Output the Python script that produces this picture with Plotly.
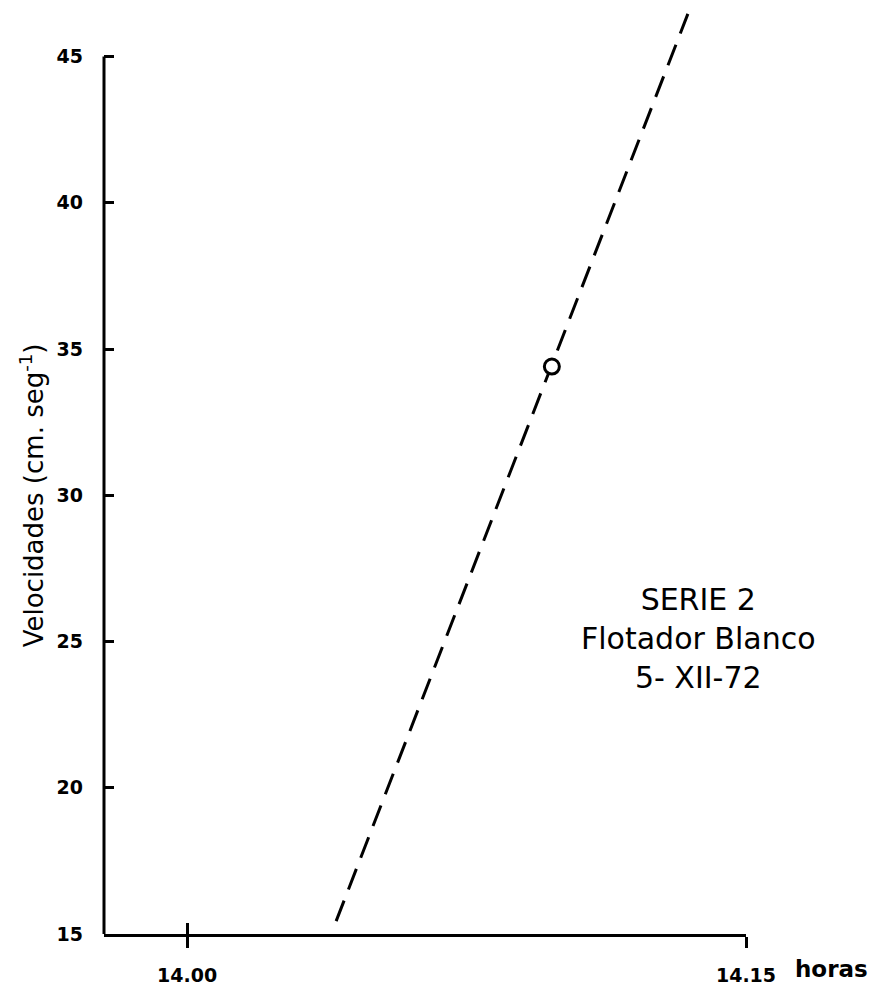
import plotly.graph_objects as go

# Data (minutes after 14:00, velocity cm/s)
line_x = [4.0, 13.44]
line_y = [15.44, 46.46]
point_x = [9.79]
point_y = [34.4]
x_tickvals = [0, 15]
x_ticktext = ["14.00", "14.15"]
y_tickvals = [15, 20, 25, 30, 35, 40, 45]

W, H = 889, 996
ml, mr, mt, mb = 104, 143, 10, 54
xr = [-2.23, 15.0]
yr = [15, 15 + (H - mb - mt) / 29.5]

fig = go.Figure()
fig.add_trace(go.Scatter(x=line_x, y=line_y, mode="lines",
                         line=dict(color="black", width=3, dash="22px,12px"),
                         showlegend=False, hoverinfo="skip"))
fig.add_trace(go.Scatter(x=point_x, y=point_y, mode="markers",
                         marker=dict(symbol="circle", size=15, color="white",
                                     line=dict(color="black", width=3)),
                         showlegend=False, hoverinfo="skip"))

tickfont = dict(family="DejaVu Sans", size=19, color="black", weight="bold")

fig.update_layout(
    width=W, height=H,
    margin=dict(l=ml, r=mr, t=mt, b=mb),
    paper_bgcolor="white", plot_bgcolor="white",
    xaxis=dict(range=xr, tickvals=x_tickvals, ticktext=x_ticktext,
               showgrid=False, zeroline=False, showline=True,
               linecolor="black", linewidth=3,
               ticks="outside", ticklen=11, tickwidth=3, tickcolor="black",
               tickfont=tickfont, ticklabelstandoff=11),
    xaxis2=dict(range=xr, overlaying="x", anchor="y", side="bottom",
                tickvals=x_tickvals, showticklabels=False,
                showgrid=False, zeroline=False, showline=False,
                ticks="inside", ticklen=11, tickwidth=3, tickcolor="black"),
    yaxis=dict(range=yr, tickvals=y_tickvals,
               showgrid=False, zeroline=False, showline=False,
               ticks="inside", ticklen=10, tickwidth=3, tickcolor="black",
               tickfont=tickfont, ticklabelstandoff=20),
)

# dummy trace to activate xaxis2
fig.add_trace(go.Scatter(x=[None], y=[None], xaxis="x2", yaxis="y",
                         showlegend=False, hoverinfo="skip"))

# y axis line from 15 to 45
fig.add_shape(type="line", xref="paper", yref="y", x0=0, x1=0, y0=15, y1=45,
              line=dict(color="black", width=3))

fig.add_annotation(text="Velocidades (cm. seg<sup>-1</sup>)", textangle=-90,
                   xref="paper", yref="y", x=(32 - ml) / (W - ml - mr), y=30.0,
                   showarrow=False, xanchor="center", yanchor="middle",
                   font=dict(family="DejaVu Sans", size=26, color="black"))

fig.add_annotation(text="horas", xref="paper", yref="paper",
                   x=(793 - ml) / (W - ml - mr), y=-(977 - (H - mb)) / (H - mt - mb),
                   xanchor="left", yanchor="middle", showarrow=False,
                   font=dict(family="DejaVu Sans", size=23, color="black", weight="bold"))

fig.add_annotation(text="SERIE 2<br>Flotador Blanco<br>5- XII-72",
                   xref="paper", yref="paper",
                   x=(698 - ml) / (W - ml - mr), y=1 - (644 - mt) / (H - mt - mb),
                   xanchor="center", yanchor="middle", showarrow=False, align="center",
                   font=dict(family="DejaVu Sans", size=30, color="black"))

fig.write_html("out.html")
